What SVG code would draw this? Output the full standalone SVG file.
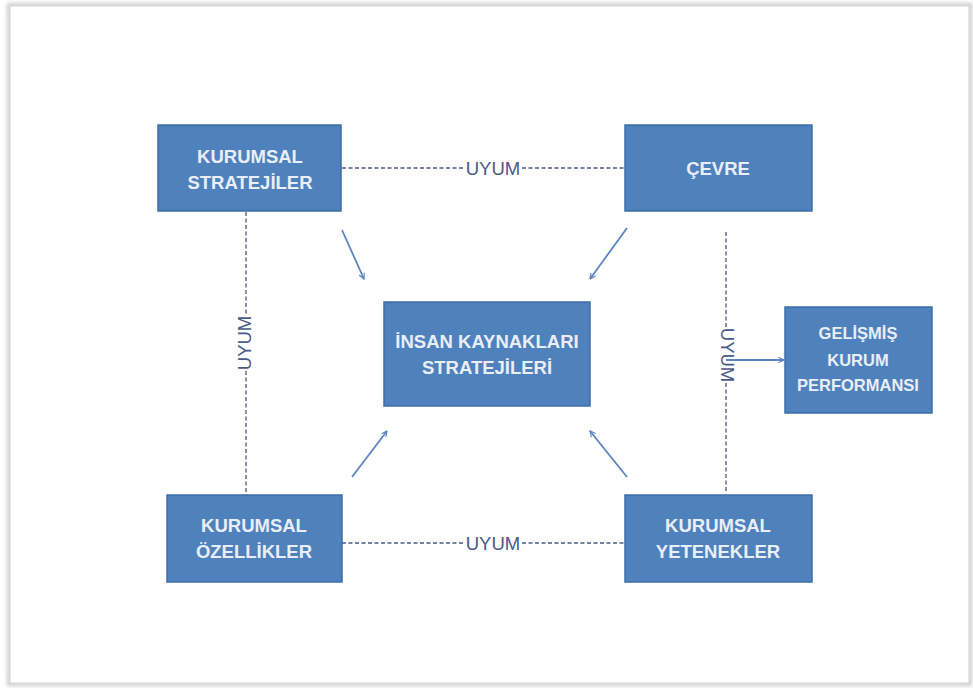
<svg xmlns="http://www.w3.org/2000/svg" width="973" height="688" viewBox="0 0 973 688">
<style>
.box{fill:#4f81bd;stroke:#3d6ea8;stroke-width:1.5}
.lbl{font-family:"Liberation Sans",Arial,sans-serif;font-weight:bold;font-size:18.5px;fill:#e9eef7;text-anchor:middle}
.sm{font-size:16.5px}
.uyum{font-family:"Liberation Sans",Arial,sans-serif;font-size:18.5px;fill:#4a5a88;text-anchor:middle;dominant-baseline:central}
.dash{stroke:#4a5a88;stroke-width:1.3;stroke-dasharray:4 2.5;fill:none}
.arr{stroke:#5b84c0;stroke-width:1.8;fill:none;marker-end:url(#ah)}
</style>
<defs>
<marker id="ah" viewBox="0 0 10 10" refX="9" refY="5" markerWidth="7" markerHeight="7" orient="auto" markerUnits="userSpaceOnUse">
<path d="M1,1 L9,5 L1,9" fill="none" stroke="#5b84c0" stroke-width="1.6"/>
</marker>
<filter id="sh" x="-5%" y="-5%" width="110%" height="110%">
<feGaussianBlur stdDeviation="2"/>
</filter>
</defs>
<rect width="973" height="688" fill="#ffffff"/>
<rect x="9" y="5" width="961" height="679" fill="none" stroke="#b8b8b8" stroke-width="3" filter="url(#sh)"/>
<rect x="10" y="6" width="959" height="677" fill="#ffffff" stroke="#d4d4d4" stroke-width="1"/>

<g id="connectors">
<line class="dash" x1="342" y1="168" x2="465" y2="168"/>
<line class="dash" x1="522" y1="168" x2="625" y2="168"/>
<line class="dash" x1="342" y1="543" x2="465" y2="543"/>
<line class="dash" x1="522" y1="543" x2="625" y2="543"/>
<line class="dash" x1="246" y1="212" x2="246" y2="315"/>
<line class="dash" x1="246" y1="371" x2="246" y2="495"/>
<line class="dash" x1="726" y1="232" x2="726" y2="327"/>
<line class="dash" x1="726" y1="383" x2="726" y2="492"/>
<text class="uyum" x="493" y="168">UYUM</text>
<text class="uyum" x="493" y="543">UYUM</text>
<text class="uyum" transform="translate(244,343) rotate(-90)">UYUM</text>
<text class="uyum" transform="translate(727,355) rotate(90)">UYUM</text>
<line class="arr" x1="726" y1="360" x2="784" y2="360"/>
<line class="arr" x1="342" y1="230" x2="364" y2="279"/>
<line class="arr" x1="627" y1="228" x2="590" y2="279"/>
<line class="arr" x1="352" y1="477" x2="387" y2="431"/>
<line class="arr" x1="627" y1="477" x2="590" y2="431"/>
</g>

<g id="kurumsal-stratejiler">
<rect class="box" x="158" y="125" width="183" height="86"/>
<text class="lbl" x="250" y="163">KURUMSAL</text>
<text class="lbl" x="250" y="189">STRATEJİLER</text>
</g>
<g id="cevre">
<rect class="box" x="625" y="125" width="187" height="86"/>
<text class="lbl" x="718" y="175">ÇEVRE</text>
</g>
<g id="insan-kaynaklari">
<rect class="box" x="384" y="302" width="206" height="104"/>
<text class="lbl" x="487" y="348">İNSAN KAYNAKLARI</text>
<text class="lbl" x="487" y="374">STRATEJİLERİ</text>
</g>
<g id="gelismis">
<rect class="box" x="785" y="307" width="147" height="106"/>
<text class="lbl sm" x="858" y="339">GELİŞMİŞ</text>
<text class="lbl sm" x="858" y="366">KURUM</text>
<text class="lbl sm" x="858" y="391">PERFORMANSI</text>
</g>
<g id="kurumsal-ozellikler">
<rect class="box" x="167" y="495" width="175" height="87"/>
<text class="lbl" x="254" y="532">KURUMSAL</text>
<text class="lbl" x="254" y="558">ÖZELLİKLER</text>
</g>
<g id="kurumsal-yetenekler">
<rect class="box" x="625" y="495" width="187" height="87"/>
<text class="lbl" x="718" y="532">KURUMSAL</text>
<text class="lbl" x="718" y="558">YETENEKLER</text>
</g>
</svg>
